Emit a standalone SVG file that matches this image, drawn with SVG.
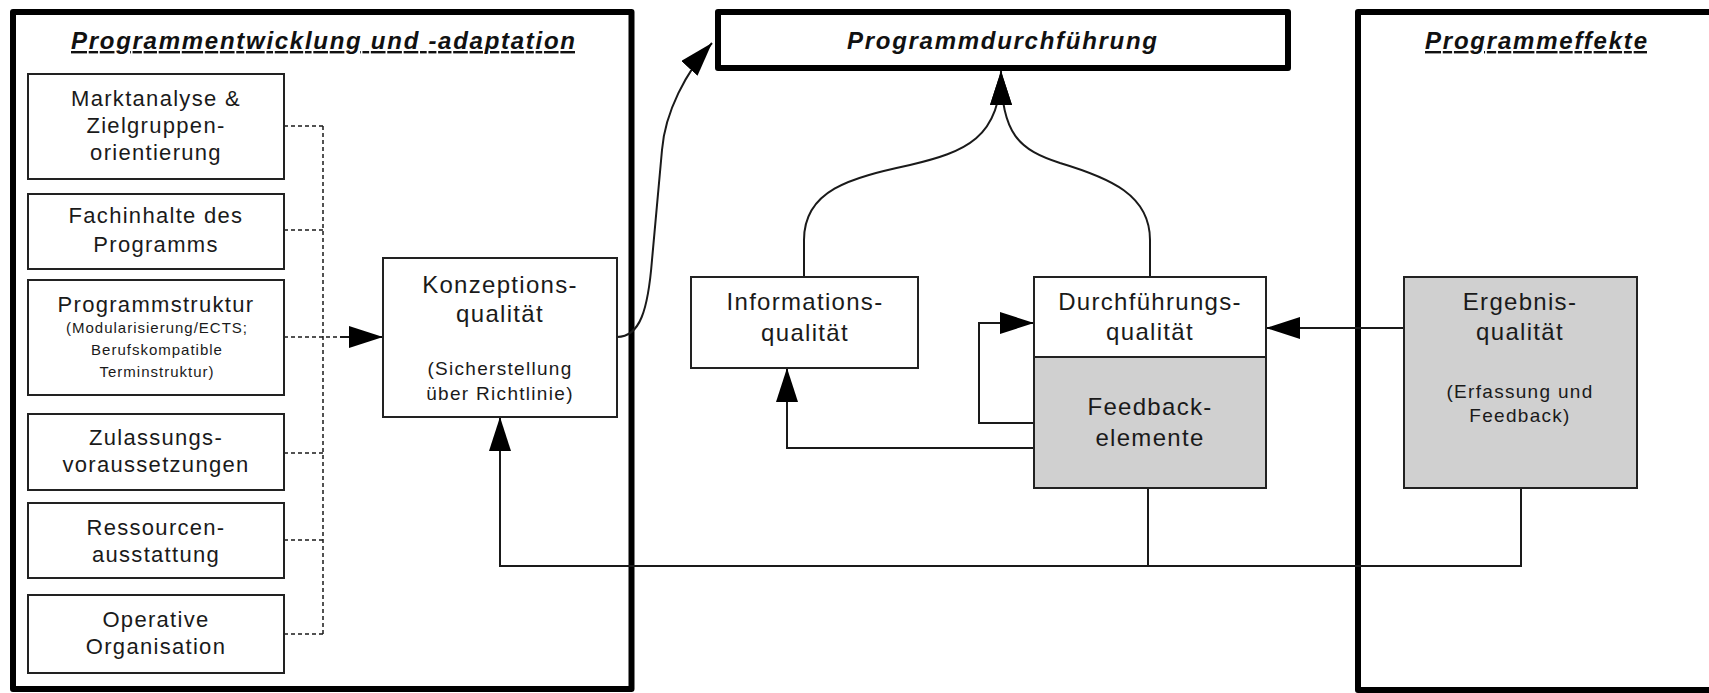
<svg xmlns="http://www.w3.org/2000/svg" width="1709" height="693" viewBox="0 0 1709 693">
<style>
.frame{fill:none;stroke:#000;stroke-width:6;stroke-linejoin:round}
.box{fill:#fff;stroke:#222;stroke-width:2}
.grey{fill:#d0d0d0;stroke:#222;stroke-width:2}
.t{font-family:"Liberation Sans",Arial,sans-serif;fill:#1a1a1a;text-anchor:middle;letter-spacing:1.3px}
.l{font-size:22px}
.m{font-size:24px}
.s{font-size:19px}
.xs{font-size:15px;letter-spacing:1px}
.h{font-family:"Liberation Sans",Arial,sans-serif;font-weight:bold;font-style:italic;font-size:24px;fill:#111;text-anchor:middle}
.u{text-decoration:underline}
.c{fill:none;stroke:#1a1a1a;stroke-width:2}
.d{fill:none;stroke:#1a1a1a;stroke-width:1.5;stroke-dasharray:4,3}
</style>
<defs>
<marker id="ah" viewBox="0 0 34 22" refX="34" refY="11" markerWidth="34" markerHeight="22" markerUnits="userSpaceOnUse" orient="auto">
<path d="M0,0 L34,11 L0,22 z" fill="#000"/>
</marker>
</defs>
<rect width="1709" height="693" fill="#fff"/>

<g id="frame-entwicklung">
<rect class="frame" x="13" y="12" width="618.5" height="677"/>
<text class="h u" x="323" y="49" textLength="504">Programmentwicklung und -adaptation</text>
</g>
<g id="frame-durchfuehrung">
<rect class="frame" x="718" y="12" width="570" height="56" fill="#fff"/>
<text class="h" x="1002" y="49" textLength="310">Programmdurchführung</text>
</g>
<g id="frame-effekte">
<rect class="frame" x="1358" y="12" width="420" height="678"/>
<text class="h u" x="1536" y="49" textLength="222">Programmeffekte</text>
</g>

<g id="connectors">
<path class="d" d="M284,126 H323 M284,230 H323 M284,337 H340 M284,453 H323 M284,540 H323 M284,634 H323 M323,126 V634"/>
<path class="c" d="M340,337 H383" marker-end="url(#ah)"/>
<path class="c" d="M617,337 C640,337 648,310 652,260 L662,150 C665,112 686,72 712,43" marker-end="url(#ah)"/>
<path class="c" d="M804,277 V240 C804,190 850,178 910,165 C965,152 1001,138 1001,71" marker-end="url(#ah)"/>
<path class="c" d="M1150,277 V240 C1150,195 1110,178 1060,163 C1020,150 1001,135 1001,71" marker-end="url(#ah)"/>
<path class="c" d="M1034,448 H787 V368" marker-end="url(#ah)"/>
<path class="c" d="M1034,423 H979 V323 H1034" marker-end="url(#ah)"/>
<path class="c" d="M1404,328 H1266" marker-end="url(#ah)"/>
<path class="c" d="M1521,488 V566 H500 V417" marker-end="url(#ah)"/>
<path class="c" d="M1148,488 V566"/>
</g>

<g id="n-markt">
<rect class="box" x="28" y="74" width="256" height="105"/>
<text class="t l" x="156" y="106">Marktanalyse &amp;</text>
<text class="t l" x="156" y="133">Zielgruppen-</text>
<text class="t l" x="156" y="160">orientierung</text>
</g>
<g id="n-fach">
<rect class="box" x="28" y="194" width="256" height="75"/>
<text class="t l" x="156" y="223">Fachinhalte des</text>
<text class="t l" x="156" y="252">Programms</text>
</g>
<g id="n-struktur">
<rect class="box" x="28" y="280" width="256" height="115"/>
<text class="t l" x="156" y="312">Programmstruktur</text>
<text class="t xs" x="157" y="333">(Modularisierung/ECTS;</text>
<text class="t xs" x="157" y="355">Berufskompatible</text>
<text class="t xs" x="157" y="377">Terminstruktur)</text>
</g>
<g id="n-zulassung">
<rect class="box" x="28" y="414" width="256" height="76"/>
<text class="t l" x="156" y="445">Zulassungs-</text>
<text class="t l" x="156" y="472">voraussetzungen</text>
</g>
<g id="n-ressourcen">
<rect class="box" x="28" y="503" width="256" height="75"/>
<text class="t l" x="156" y="535">Ressourcen-</text>
<text class="t l" x="156" y="562">ausstattung</text>
</g>
<g id="n-operativ">
<rect class="box" x="28" y="595" width="256" height="78"/>
<text class="t l" x="156" y="627">Operative</text>
<text class="t l" x="156" y="654">Organisation</text>
</g>
<g id="n-konzeption">
<rect class="box" x="383" y="258" width="234" height="159"/>
<text class="t m" x="500" y="293">Konzeptions-</text>
<text class="t m" x="500" y="322">qualität</text>
<text class="t s" x="500" y="375">(Sicherstellung</text>
<text class="t s" x="500" y="400">über Richtlinie)</text>
</g>
<g id="n-information">
<rect class="box" x="691" y="277" width="227" height="91"/>
<text class="t m" x="805" y="310">Informations-</text>
<text class="t m" x="805" y="341">qualität</text>
</g>
<g id="n-durchfuehrung">
<rect class="box" x="1034" y="277" width="232" height="80"/>
<text class="t m" x="1150" y="310">Durchführungs-</text>
<text class="t m" x="1150" y="340">qualität</text>
</g>
<g id="n-feedback">
<rect class="grey" x="1034" y="357" width="232" height="131"/>
<text class="t m" x="1150" y="415">Feedback-</text>
<text class="t m" x="1150" y="446">elemente</text>
</g>
<g id="n-ergebnis">
<rect class="grey" x="1404" y="277" width="233" height="211"/>
<text class="t m" x="1520" y="310">Ergebnis-</text>
<text class="t m" x="1520" y="340">qualität</text>
<text class="t s" x="1520" y="398">(Erfassung und</text>
<text class="t s" x="1520" y="422">Feedback)</text>
</g>
</svg>
